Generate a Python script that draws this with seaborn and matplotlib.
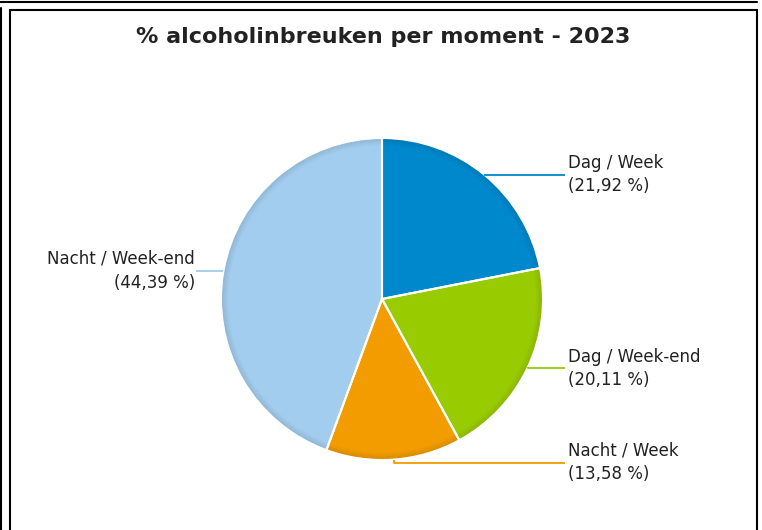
import numpy as np
import matplotlib
matplotlib.use("Agg")
import matplotlib.pyplot as plt
import seaborn as sns
from matplotlib.lines import Line2D
from matplotlib.patches import Wedge
from matplotlib.colors import to_rgb

categories = ["Dag / Week", "Dag / Week-end", "Nacht / Week", "Nacht / Week-end"]
values = [21.92, 20.11, 13.58, 44.39]
value_labels = ["21,92 %", "20,11 %", "13,58 %", "44,39 %"]
colors = ["#0088CC", "#99CC00", "#F29C00", "#A2CDEE"]
title = "% alcoholinbreuken per moment - 2023"

sns.set_theme(style="white")
plt.rcParams['font.family'] = ['DejaVu Sans']

W, H = 762, 530
fig = plt.figure(figsize=(W / 100, H / 100), dpi=100)
ax = fig.add_axes([0, 0, 1, 1])

cx, cy, R = 382, H - 299, 161
wedges, _ = ax.pie(values, colors=colors, startangle=90, counterclock=False,
                   center=(cx, cy), radius=R, frame=True,
                   wedgeprops=dict(edgecolor="none", linewidth=0))

# subtle rim shading
nsteps = 8
for w, col in zip(wedges, colors):
    base = np.array(to_rgb(col))
    for i in range(nsteps):
        r_out = R - i * 0.9
        f = 0.14 * (1 - i / nsteps)
        c = base * (1 - f)
        ax.add_patch(Wedge((cx, cy), r_out, w.theta1, w.theta2, width=0.9,
                           facecolor=c, edgecolor="none", zorder=2))

# white separators
ax.pie(values, colors=["none"] * len(values), startangle=90, counterclock=False,
       center=(cx, cy), radius=R, frame=True,
       wedgeprops=dict(edgecolor="white", linewidth=1.5, fill=False, zorder=3))

ax.set_xlim(0, W)
ax.set_ylim(0, H)
ax.set_aspect("equal")
ax.axis("off")

# leader lines and labels
text_x_right = 565
text_x_left = 196
y_offsets = [0, -1, -3, 0]
lab_fs = 12
for w, cat, lab, col, dy in zip(wedges, categories, value_labels, colors, y_offsets):
    ang = np.deg2rad((w.theta1 + w.theta2) / 2)
    ex, ey = cx + R * np.cos(ang), cy + R * np.sin(ang)
    ty = ey + dy
    if np.cos(ang) >= 0:
        ax.plot([ex, ex, text_x_right], [ey, ty, ty], color=col, lw=1.3,
                solid_capstyle="butt", zorder=4)
        ax.text(text_x_right + 3, ty, f"{cat}\n({lab})", ha="left", va="center",
                fontsize=lab_fs, color="#222222", linespacing=1.4)
    else:
        ax.plot([ex, text_x_left], [ty, ty], color=col, lw=1.3,
                solid_capstyle="butt", zorder=4)
        ax.text(text_x_left - 1, ty, f"{cat}\n({lab})", ha="right", va="center",
                fontsize=lab_fs, color="#222222", linespacing=1.4, multialignment="right")

fig.text(383 / W, 1 - 37 / H, title, ha="center", va="center",
         fontsize=16, fontweight="bold", color="#222222")

def fl(x0, y0, x1, y1, lw=1.5):
    fig.add_artist(Line2D([x0 / W, x1 / W], [1 - y0 / H, 1 - y1 / H],
                          transform=fig.transFigure, color="black", lw=lw))

fl(0, 1.5, 757, 1.5)
fl(1, 8, 1, H)
fl(9.5, 9.5, 756.5, 9.5)
fl(9.5, 9.5, 9.5, H)
fl(756.5, 9.5, 756.5, H)

fig.savefig("out.png", dpi=100)
